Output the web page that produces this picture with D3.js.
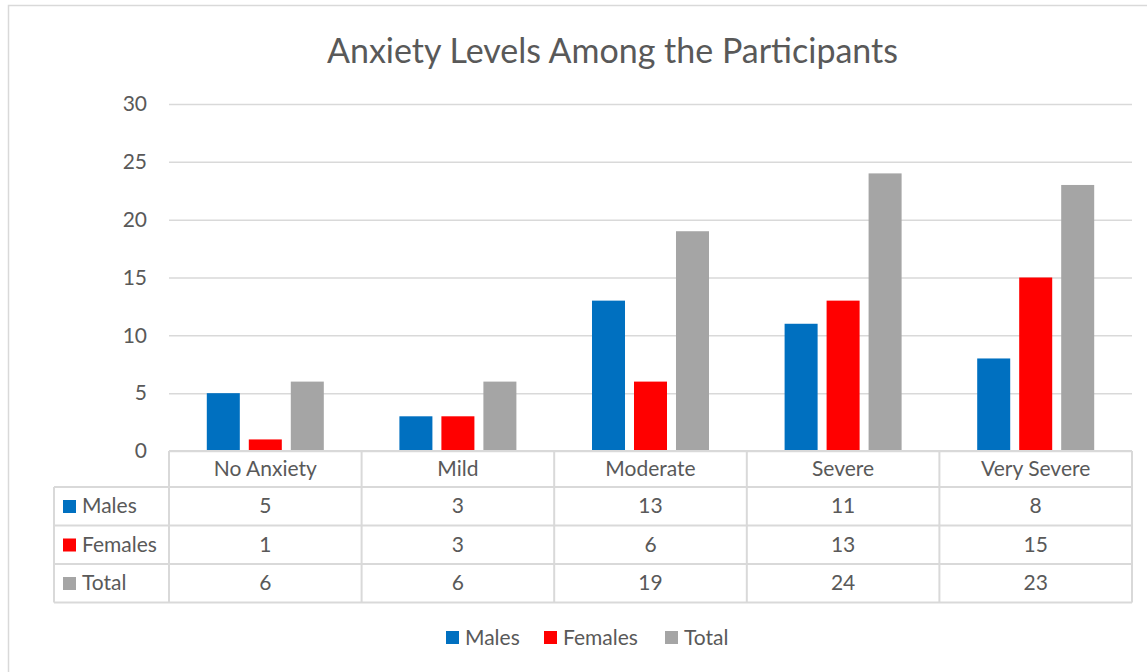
<!DOCTYPE html>
<html>
<head>
<meta charset="utf-8">
<script src="https://cdn.jsdelivr.net/npm/d3@7"></script>
<style>
  body { margin: 0; background: #fff; }
  text { font-family: "Lato", "Open Sans", sans-serif; fill: #595959; }
</style>
</head>
<body>
<svg id="chart" width="1147" height="672"></svg>
<script>
const categories = ["No Anxiety", "Mild", "Moderate", "Severe", "Very Severe"];
const seriesNames = ["Males", "Females", "Total"];
const males = [5, 3, 13, 11, 8];
const females = [1, 3, 6, 13, 15];
const total = [6, 6, 19, 24, 23];
const colors = ["#0070C0", "#FF0000", "#A5A5A5"];
const yTicks = [0, 5, 10, 15, 20, 25, 30];
const title = "Anxiety Levels Among the Participants";

const seriesValues = [males, females, total];
const svg = d3.select("#chart");
const fs = "21px";

// outer border
svg.append("rect").attr("x", 8.5).attr("y", 5.5).attr("width", 1150).attr("height", 680)
  .attr("fill", "#fff").attr("stroke", "#d9d9d9").attr("stroke-width", 1.5);

const pLeft = 169, pRight = 1132, pTop = 104, pBottom = 451;
const x0 = d3.scaleBand().domain(categories).range([pLeft, pRight]);
const x1 = d3.scaleBand().domain(seriesNames).range([0, x0.bandwidth()]).paddingInner(0.214).paddingOuter(0.9);
const y = d3.scaleLinear().domain([0, 30]).range([pBottom, pTop]);

// title
svg.append("text").attr("x", 612.5).attr("y", 63).attr("text-anchor", "middle")
  .style("font-size", "34px").text(title);

// gridlines
const yAxis = d3.axisLeft(y).tickValues(yTicks).tickSize(-(pRight - pLeft)).tickPadding(22);
const gy = svg.append("g").attr("transform", `translate(${pLeft},0)`).call(yAxis);
gy.select(".domain").remove();
gy.selectAll(".tick line").attr("stroke", "#d9d9d9").attr("stroke-width", 1.5);
gy.selectAll(".tick text").style("font-size", fs).attr("fill", "#595959")
  .style("font-family", "Lato, 'Open Sans', sans-serif");

// bars
const groups = svg.append("g").selectAll("g").data(categories).join("g")
  .attr("transform", d => `translate(${x0(d)},0)`);
groups.selectAll("rect").data((c, i) => seriesNames.map((s, j) => ({ s, v: seriesValues[j][i], j })))
  .join("rect")
  .attr("x", d => x1(d.s)).attr("width", x1.bandwidth())
  .attr("y", d => y(d.v)).attr("height", d => y(0) - y(d.v))
  .attr("fill", d => colors[d.j]);

// data table
const rowH = 38.5;
const headerTop = pBottom, headerBottom = pBottom + 36;
const tableLeft = 54;
const lineColor = "#d9d9d9";
const tbl = svg.append("g");
const rowsBottom = headerBottom + rowH * 3;
tbl.append("line").attr("x1", pLeft).attr("x2", pRight).attr("y1", headerTop).attr("y2", headerTop);
for (let r = 0; r <= 3; r++) {
  const yy = headerBottom + r * rowH;
  tbl.append("line").attr("x1", tableLeft).attr("x2", pRight).attr("y1", yy).attr("y2", yy);
}
tbl.append("line").attr("x1", tableLeft).attr("x2", tableLeft).attr("y1", headerBottom).attr("y2", rowsBottom);
categories.forEach(c => {
  tbl.append("line").attr("x1", x0(c)).attr("x2", x0(c)).attr("y1", headerTop).attr("y2", rowsBottom);
});
tbl.append("line").attr("x1", pRight).attr("x2", pRight).attr("y1", headerTop).attr("y2", rowsBottom);
tbl.selectAll("line").attr("stroke", lineColor).attr("stroke-width", 2);

categories.forEach(c => {
  tbl.append("text").attr("x", x0(c) + x0.bandwidth() / 2).attr("y", headerTop + 25)
    .attr("text-anchor", "middle").style("font-size", fs).text(c);
});
seriesNames.forEach((s, j) => {
  const cy = headerBottom + j * rowH;
  tbl.append("rect").attr("x", 63).attr("y", cy + 13).attr("width", 13).attr("height", 13).attr("fill", colors[j]);
  tbl.append("text").attr("x", 82).attr("y", cy + 26).style("font-size", fs).text(s);
  categories.forEach((c, i) => {
    tbl.append("text").attr("x", x0(c) + x0.bandwidth() / 2).attr("y", cy + 26)
      .attr("text-anchor", "middle").style("font-size", fs).text(seriesValues[j][i]);
  });
});

// legend
const legendX = [446, 544, 665];
const lg = svg.append("g");
seriesNames.forEach((s, j) => {
  lg.append("rect").attr("x", legendX[j]).attr("y", 631).attr("width", 13).attr("height", 13).attr("fill", colors[j]);
  lg.append("text").attr("x", legendX[j] + 19).attr("y", 645).style("font-size", fs).text(s);
});
</script>
</body>
</html>
